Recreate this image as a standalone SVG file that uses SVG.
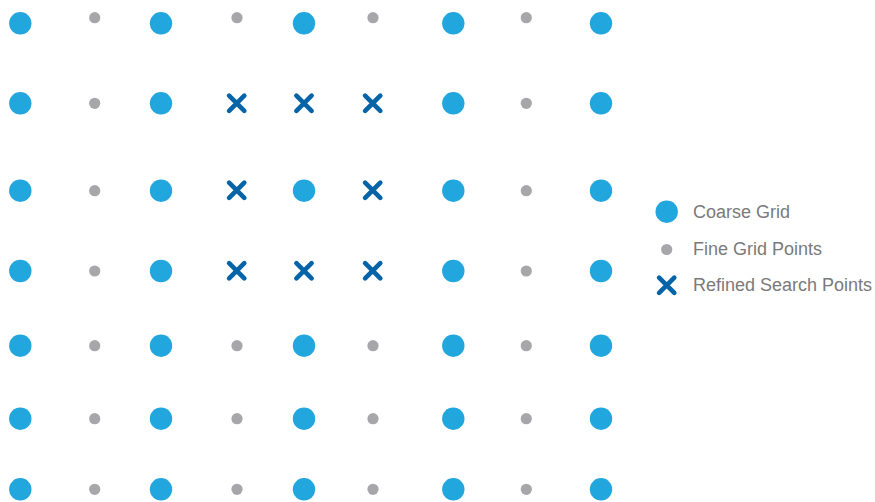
<svg xmlns="http://www.w3.org/2000/svg" xmlns:xlink="http://www.w3.org/1999/xlink" width="875" height="502" viewBox="0 0 875 502">
<style>
.c{fill:#21A6DE}
.f{fill:#A7A7AA}
.x{stroke:#0563A8;stroke-width:4.6;stroke-linecap:round;fill:none}
.t{font-family:"Liberation Sans",Arial,sans-serif;font-size:18px;fill:#7a7a7a}
</style>
<defs>
<circle id="cg" r="11.2" class="c"/>
<circle id="fg" r="5.6" class="f"/>
<path id="xr" d="M-7.6,-7.6L7.6,7.6M7.6,-7.6L-7.6,7.6" class="x"/>
</defs>
<rect width="875" height="502" fill="#fff"/>
<g id="connectors"/>
<g id="row1">
<use xlink:href="#cg" x="20.3" y="23.3"/><use xlink:href="#fg" x="94.7" y="17.7"/><use xlink:href="#cg" x="161" y="23.3"/><use xlink:href="#fg" x="237" y="17.7"/><use xlink:href="#cg" x="304" y="23.3"/><use xlink:href="#fg" x="373" y="17.7"/><use xlink:href="#cg" x="453.3" y="23.3"/><use xlink:href="#fg" x="526.3" y="17.7"/><use xlink:href="#cg" x="601" y="23.3"/>
</g>
<g id="row2">
<use xlink:href="#cg" x="20.3" y="103.3"/><use xlink:href="#fg" x="94.7" y="103.3"/><use xlink:href="#cg" x="161" y="103.3"/><use xlink:href="#xr" x="236.7" y="103.3"/><use xlink:href="#xr" x="304" y="103.3"/><use xlink:href="#xr" x="372.7" y="103.3"/><use xlink:href="#cg" x="453.3" y="103.3"/><use xlink:href="#fg" x="526.3" y="103.3"/><use xlink:href="#cg" x="601" y="103.3"/>
</g>
<g id="row3">
<use xlink:href="#cg" x="20.3" y="190.7"/><use xlink:href="#fg" x="94.7" y="190.7"/><use xlink:href="#cg" x="161" y="190.7"/><use xlink:href="#xr" x="236.7" y="190.3"/><use xlink:href="#cg" x="304" y="190.7"/><use xlink:href="#xr" x="372.7" y="190.3"/><use xlink:href="#cg" x="453.3" y="190.7"/><use xlink:href="#fg" x="526.3" y="190.7"/><use xlink:href="#cg" x="601" y="190.7"/>
</g>
<g id="row4">
<use xlink:href="#cg" x="20.3" y="271"/><use xlink:href="#fg" x="94.7" y="271"/><use xlink:href="#cg" x="161" y="271"/><use xlink:href="#xr" x="236.7" y="270.7"/><use xlink:href="#xr" x="304" y="270.7"/><use xlink:href="#xr" x="372.7" y="270.7"/><use xlink:href="#cg" x="453.3" y="271"/><use xlink:href="#fg" x="526.3" y="271"/><use xlink:href="#cg" x="601" y="271"/>
</g>
<g id="row5">
<use xlink:href="#cg" x="20.3" y="345.7"/><use xlink:href="#fg" x="94.7" y="345.7"/><use xlink:href="#cg" x="161" y="345.7"/><use xlink:href="#fg" x="237" y="345.7"/><use xlink:href="#cg" x="304" y="345.7"/><use xlink:href="#fg" x="373" y="345.7"/><use xlink:href="#cg" x="453.3" y="345.7"/><use xlink:href="#fg" x="526.3" y="345.7"/><use xlink:href="#cg" x="601" y="345.7"/>
</g>
<g id="row6">
<use xlink:href="#cg" x="20.3" y="418.7"/><use xlink:href="#fg" x="94.7" y="418.7"/><use xlink:href="#cg" x="161" y="418.7"/><use xlink:href="#fg" x="237" y="418.7"/><use xlink:href="#cg" x="304" y="418.7"/><use xlink:href="#fg" x="373" y="418.7"/><use xlink:href="#cg" x="453.3" y="418.7"/><use xlink:href="#fg" x="526.3" y="418.7"/><use xlink:href="#cg" x="601" y="418.7"/>
</g>
<g id="row7">
<use xlink:href="#cg" x="20.3" y="489.3"/><use xlink:href="#fg" x="94.7" y="489.3"/><use xlink:href="#cg" x="161" y="489.3"/><use xlink:href="#fg" x="237" y="489.3"/><use xlink:href="#cg" x="304" y="489.3"/><use xlink:href="#fg" x="373" y="489.3"/><use xlink:href="#cg" x="453.3" y="489.3"/><use xlink:href="#fg" x="526.3" y="489.3"/><use xlink:href="#cg" x="601" y="489.3"/>
</g>
<g id="legend">
<use xlink:href="#cg" x="666.7" y="211.7"/>
<text class="t" x="693" y="217.5">Coarse Grid</text>
<use xlink:href="#fg" x="666.7" y="249.5"/>
<text class="t" x="693" y="254.5">Fine Grid Points</text>
<use xlink:href="#xr" x="666.7" y="285.3"/>
<text class="t" x="693" y="290.5">Refined Search Points</text>
</g>
</svg>
